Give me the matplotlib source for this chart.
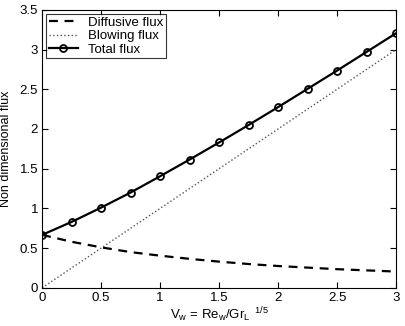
import matplotlib
matplotlib.use("Agg")
import matplotlib.pyplot as plt

plt.rcParams['font.family'] = ['Liberation Sans', 'DejaVu Sans']
plt.rcParams['mathtext.fontset'] = 'custom'
plt.rcParams['mathtext.rm'] = 'Liberation Sans'
plt.rcParams['mathtext.it'] = 'Liberation Sans'

vw = [0, 0.25, 0.5, 0.75, 1.0, 1.25, 1.5, 1.75, 2.0, 2.25, 2.5, 2.75, 3.0]
diffusive = [0.667, 0.58, 0.51, 0.45, 0.405, 0.365, 0.33, 0.30, 0.275, 0.255, 0.235, 0.22, 0.205]
blowing = [0, 0.25, 0.5, 0.75, 1.0, 1.25, 1.5, 1.75, 2.0, 2.25, 2.5, 2.75, 3.0]
total = [0.667, 0.83, 1.01, 1.20, 1.405, 1.615, 1.83, 2.05, 2.275, 2.505, 2.735, 2.97, 3.205]

fig = plt.figure(figsize=(4.05, 3.26), dpi=100)
ax = fig.add_axes([0.104, 0.117, 0.874, 0.853])

ax.plot(vw, diffusive, 'k--', lw=1.6, dashes=(4, 3), label='Diffusive flux')
ax.plot(vw, blowing, color='#555555', ls=':', lw=1.0, label='Blowing flux')
ax.plot(vw, total, 'k-', lw=1.6, marker='o', ms=5, mfc='none', mew=1.3, label='Total flux')

ax.set_xlim(0, 3)
ax.set_ylim(0, 3.5)
ax.set_xticks([0, 0.5, 1, 1.5, 2, 2.5, 3])
ax.set_xticklabels(['0', '0.5', '1', '1.5', '2', '2.5', '3'])
ax.set_yticks([0, 0.5, 1, 1.5, 2, 2.5, 3, 3.5])
ax.set_yticklabels(['0', '0.5', '1', '1.5', '2', '2.5', '3', '3.5'])
ax.tick_params(direction='in', top=True, right=True, labelsize=9.5, length=4, pad=3)
for s in ax.spines.values():
    s.set_linewidth(0.8)

ax.set_xlabel(r'V$_\mathrm{w}$ = Re$_\mathrm{w}$/Gr$_\mathrm{L}$$^{\ \ 1/5}$', fontsize=9.5, labelpad=1)
ax.set_ylabel('Non dimensional flux', fontsize=9)
ax.yaxis.set_label_coords(-0.085, 0.5)

leg = ax.legend(loc='upper left', fontsize=9.5, frameon=True, fancybox=False,
                edgecolor='k', borderaxespad=0.3, handlelength=2.2,
                labelspacing=0.1, borderpad=0.2)
leg.get_frame().set_linewidth(0.8)

fig.savefig('out.png', dpi=100)
